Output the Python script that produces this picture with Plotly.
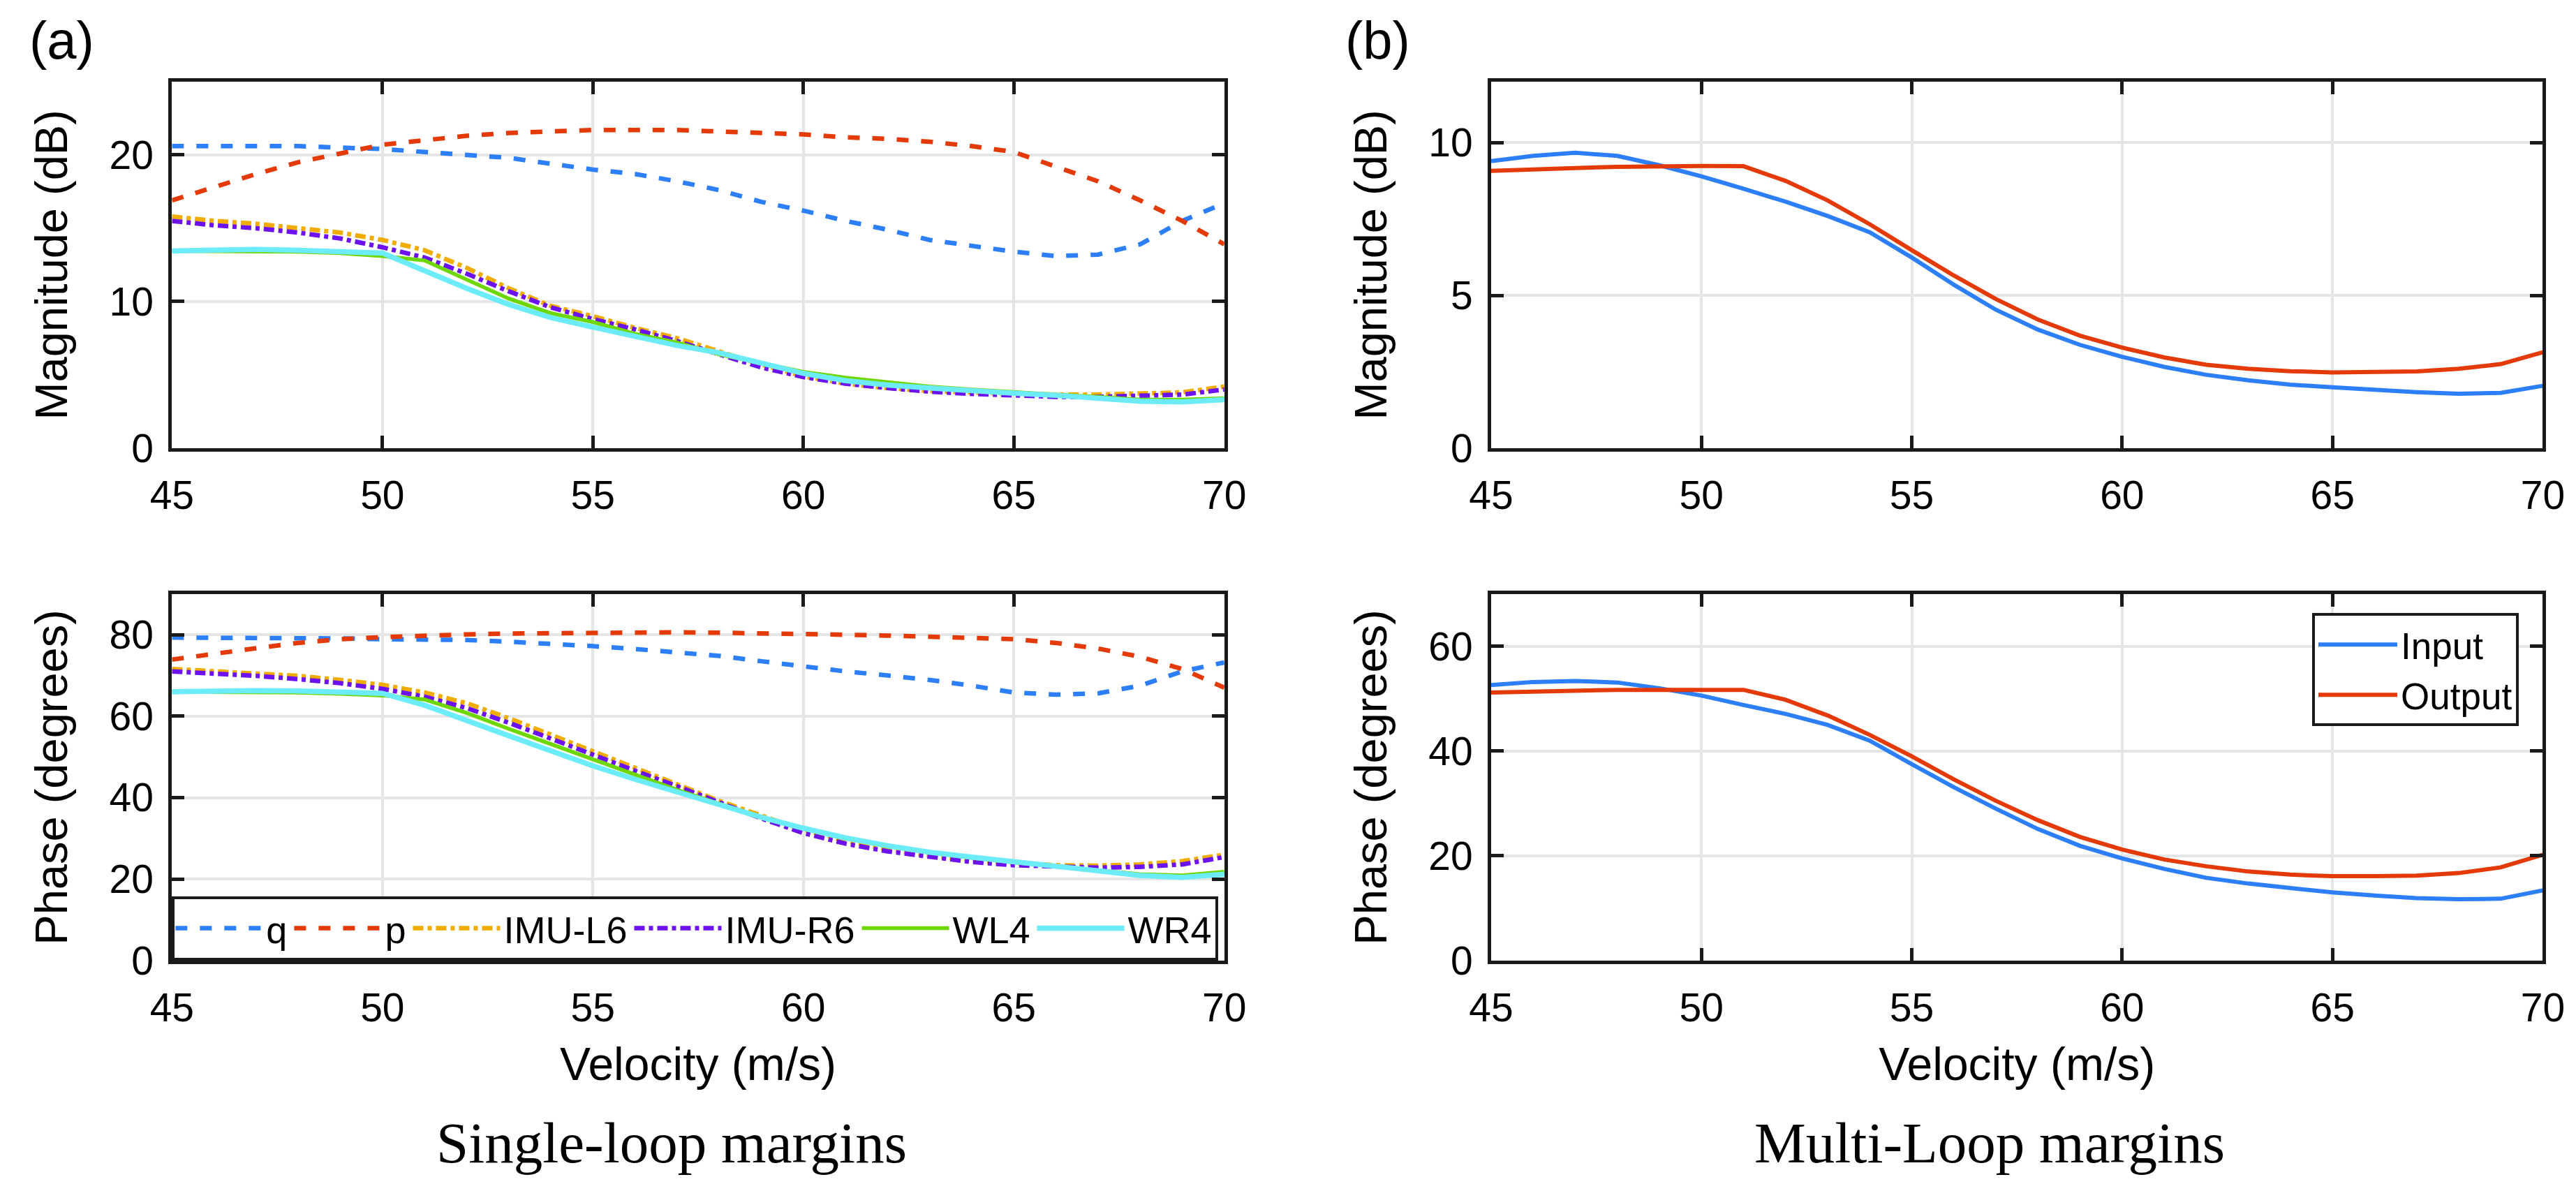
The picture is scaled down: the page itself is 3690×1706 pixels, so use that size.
import plotly.graph_objects as go
from plotly.subplots import make_subplots

#%% data (velocity in m/s)
velocity = [45, 46, 47, 48, 49, 50, 51, 52, 53, 54, 55, 56, 57,
            58, 59, 60, 61, 62, 63, 64, 65, 66, 67, 68, 69, 70]

# single-loop gain margins (dB)
q_mag = [20.6, 20.6, 20.6, 20.6, 20.5, 20.4, 20.2, 20.0, 19.8, 19.4, 19.0, 18.7, 18.2,
         17.6, 16.8, 16.2, 15.5, 14.9, 14.2, 13.8, 13.4, 13.1, 13.2, 13.9, 15.5, 16.7]
p_mag = [16.9, 17.8, 18.7, 19.5, 20.1, 20.7, 21.0, 21.3, 21.5, 21.6, 21.7, 21.7, 21.7,
         21.6, 21.5, 21.4, 21.2, 21.1, 20.9, 20.6, 20.2, 19.2, 18.2, 16.9, 15.5, 13.9]
imul6_mag = [15.8, 15.5, 15.3, 15.0, 14.7, 14.2, 13.5, 12.3, 10.9, 9.7, 9.0, 8.2, 7.5,
             6.6, 5.7, 4.9, 4.4, 4.1, 3.9, 3.8, 3.7, 3.65, 3.65, 3.7, 3.8, 4.2]
imur6_mag = [15.5, 15.2, 15.0, 14.7, 14.3, 13.7, 13.0, 11.9, 10.7, 9.6, 8.8, 8.1, 7.3,
             6.4, 5.5, 4.85, 4.4, 4.1, 3.85, 3.7, 3.6, 3.5, 3.5, 3.6, 3.65, 4.0]
wl4_mag = [13.45, 13.45, 13.45, 13.4, 13.3, 13.1, 12.8, 11.5, 10.2, 9.2, 8.6, 7.8, 7.2,
           6.4, 5.8, 5.2, 4.8, 4.5, 4.2, 4.0, 3.8, 3.65, 3.5, 3.3, 3.3, 3.4]
wr4_mag = [13.45, 13.5, 13.55, 13.5, 13.4, 13.3, 12.1, 10.9, 9.8, 8.9, 8.25, 7.6, 7.0,
           6.5, 5.8, 5.1, 4.6, 4.3, 4.1, 3.9, 3.75, 3.6, 3.4, 3.2, 3.15, 3.3]

# single-loop phase margins (degrees)
q_ph = [79.3, 79.3, 79.2, 79.2, 79.1, 78.9, 78.8, 78.7, 78.3, 77.8, 77.2, 76.5, 75.6,
        74.8, 73.5, 72.2, 71.0, 70.0, 68.9, 67.5, 65.8, 65.3, 65.6, 67.5, 71.0, 73.2]
p_ph = [73.9, 75.4, 76.7, 78.0, 78.9, 79.4, 79.8, 80.1, 80.3, 80.4, 80.5, 80.6, 80.6,
        80.5, 80.4, 80.2, 80.0, 79.8, 79.5, 79.2, 78.9, 78.0, 76.6, 74.6, 71.6, 67.0]
imul6_ph = [71.6, 71.1, 70.6, 69.9, 68.9, 67.7, 65.8, 63.2, 59.5, 55.5, 51.5, 47.4, 43.3,
            39.2, 35.6, 32.1, 29.4, 27.3, 25.8, 24.7, 23.9, 23.4, 23.3, 23.6, 24.4, 26.0]
imur6_ph = [71.0, 70.5, 69.9, 69.1, 68.1, 66.7, 64.8, 62.0, 58.4, 54.5, 50.5, 46.6, 42.8,
            38.8, 34.9, 31.3, 28.7, 26.8, 25.4, 24.2, 23.4, 23.0, 22.8, 23.0, 23.6, 25.4]
wl4_ph = [66.0, 66.0, 66.0, 65.8, 65.5, 65.1, 64.1, 60.8, 56.9, 53.1, 49.3, 45.5, 41.9,
          38.5, 35.1, 32.3, 30.0, 28.0, 26.5, 25.2, 24.1, 23.2, 22.2, 21.2, 20.9, 21.8]
wr4_ph = [66.0, 66.2, 66.3, 66.2, 66.0, 65.6, 62.7, 59.1, 55.2, 51.5, 47.8, 44.5, 41.3,
          38.3, 35.2, 32.5, 30.1, 28.2, 26.6, 25.4, 24.2, 23.2, 22.0, 20.9, 20.4, 21.2]

# multi-loop margins
input_mag = [9.4, 9.57, 9.67, 9.57, 9.26, 8.9, 8.49, 8.07, 7.6, 7.07, 6.24, 5.35, 4.53,
             3.88, 3.38, 2.99, 2.66, 2.4, 2.22, 2.08, 1.99, 1.9, 1.83, 1.78, 1.81, 2.04]
output_mag = [9.08, 9.14, 9.17, 9.21, 9.23, 9.24, 9.23, 8.75, 8.11, 7.33, 6.48, 5.65, 4.88,
              4.21, 3.68, 3.29, 2.97, 2.73, 2.6, 2.52, 2.48, 2.48, 2.51, 2.6, 2.75, 3.14]
input_ph = [52.6, 53.2, 53.4, 53.1, 52.0, 50.6, 48.8, 47.1, 45.0, 42.0, 37.5, 33.1, 29.0,
            25.1, 21.9, 19.5, 17.5, 15.8, 14.7, 13.8, 13.0, 12.4, 11.9, 11.7, 11.8, 13.4]
output_ph = [51.2, 51.4, 51.5, 51.7, 51.7, 51.7, 51.7, 49.8, 46.8, 43.1, 39.0, 34.6, 30.5,
             26.8, 23.6, 21.2, 19.3, 18.0, 17.0, 16.4, 16.1, 16.1, 16.2, 16.7, 17.8, 20.2]

x_ticks = [45, 50, 55, 60, 65, 70]

#%% styles
W, H = 3690, 1706
SANS = "Liberation Sans, Arial, Helvetica, sans-serif"
SERIF = "Liberation Serif, Times New Roman, serif"
BLUE = "#2d7ff9"
RED = "#e33a08"
ORANGE = "#f0ad00"
PURPLE = "#6c12f0"
GREEN = "#6ed600"
CYAN = "#6cecf8"
AXC = "#1a1a1a"
GRID = "#e3e6e5"

single = [
    ("q", q_mag, q_ph, BLUE, "17px,18px", 6.5),
    ("p", p_mag, p_ph, RED, "17px,18px", 6.5),
    ("IMU-L6", imul6_mag, imul6_ph, ORANGE, "15px,6px,6px,6px", 6.5),
    ("IMU-R6", imur6_mag, imur6_ph, PURPLE, "15px,6px,6px,6px", 6.5),
    ("WL4", wl4_mag, wl4_ph, GREEN, "solid", 5.5),
    ("WR4", wr4_mag, wr4_ph, CYAN, "solid", 7.5),
]
multi = [
    ("Input", input_mag, input_ph, BLUE),
    ("Output", output_mag, output_ph, RED),
]

fig = make_subplots(rows=2, cols=2)

for name, mag, ph, col, dash, lw in single:
    fig.add_trace(go.Scatter(x=velocity, y=mag, mode="lines", name=name, legendgroup=name,
                             showlegend=False, line=dict(color=col, width=lw, dash=dash)),
                  row=1, col=1)
    fig.add_trace(go.Scatter(x=velocity, y=ph, mode="lines", name=name, legendgroup=name,
                             legend="legend", line=dict(color=col, width=lw, dash=dash)),
                  row=2, col=1)

for name, mag, ph, col in multi:
    fig.add_trace(go.Scatter(x=velocity, y=mag, mode="lines", name=name, legendgroup=name,
                             showlegend=False, legend="legend2",
                             line=dict(color=col, width=6)), row=1, col=2)
    fig.add_trace(go.Scatter(x=velocity, y=ph, mode="lines", name=name, legendgroup=name,
                             legend="legend2", line=dict(color=col, width=6)), row=2, col=2)

# panel positions (pixels)
xl = [210 / W, 1744 / W]
xr = [2133 / W, 3666 / W]
yt = [1 - 646 / H, 1 - 111 / H]
yb = [1 - 1394 / H, 1 - 859 / H]

axis_style = dict(showline=True, linewidth=5, linecolor=AXC, mirror="allticks",
                  ticks="inside", ticklen=18, tickwidth=5, tickcolor=AXC,
                  showgrid=True, gridcolor=GRID, gridwidth=4, zeroline=False,
                  tickfont=dict(family=SANS, size=57, color="black"))

ytitle_font = dict(family=SANS, size=65, color="black")
xtitle_font = dict(family=SANS, size=66, color="black")

fig.update_xaxes(axis_style, range=[45, 70], tickvals=x_ticks, ticklabelstandoff=14)
fig.update_yaxes(axis_style, ticklabelstandoff=10)

fig.update_layout(
    xaxis=dict(domain=xl), yaxis=dict(domain=yt, range=[0, 25], tickvals=[0, 10, 20],
                                      title=dict(text="Magnitude (dB)", font=ytitle_font, standoff=40)),
    xaxis2=dict(domain=xr), yaxis2=dict(domain=yt, range=[0, 12], tickvals=[0, 5, 10],
                                        title=dict(text="Magnitude (dB)", font=ytitle_font, standoff=40)),
    xaxis3=dict(domain=xl, title=dict(text="Velocity (m/s)", font=xtitle_font, standoff=28)),
    yaxis3=dict(domain=yb, range=[0, 90], tickvals=[0, 20, 40, 60, 80],
                title=dict(text="Phase (degrees)", font=ytitle_font, standoff=40)),
    xaxis4=dict(domain=xr, title=dict(text="Velocity (m/s)", font=xtitle_font, standoff=28)),
    yaxis4=dict(domain=yb, range=[0, 70], tickvals=[0, 20, 40, 60],
                title=dict(text="Phase (degrees)", font=ytitle_font, standoff=40)),
)

fig.update_layout(
    width=W, height=H, autosize=False,
    margin=dict(l=0, r=0, t=0, b=0),
    paper_bgcolor="white", plot_bgcolor="white",
    font=dict(family=SANS, color="black"),
    legend=dict(orientation="h", x=xl[0], y=yb[0], xanchor="left", yanchor="bottom",
                bgcolor="white", bordercolor=AXC, borderwidth=4, itemwidth=125,
                font=dict(family=SANS, size=54, color="black"), tracegroupgap=0),
    legend2=dict(orientation="v", x=3631 / W, y=1 - 887 / H, xanchor="right", yanchor="top",
                 bgcolor="white", bordercolor=AXC, borderwidth=4, itemwidth=113,
                 font=dict(family=SANS, size=53, color="black"), tracegroupgap=0),
    annotations=[
        dict(text="(a)", x=0 / W, y=1 - 5 / H, xref="paper", yref="paper", xanchor="left",
             yanchor="top", showarrow=False, font=dict(family=SANS, size=76)),
        dict(text="(b)", x=1918 / W, y=1 - 5 / H, xref="paper", yref="paper", xanchor="left",
             yanchor="top", showarrow=False, font=dict(family=SANS, size=76)),
        dict(text="Single-loop margins", x=938 / W, y=1 - 1660 / H, xref="paper", yref="paper",
             xanchor="center", yanchor="middle", showarrow=False, font=dict(family=SERIF, size=83)),
        dict(text="Multi-Loop margins", x=2860 / W, y=1 - 1660 / H, xref="paper", yref="paper",
             xanchor="center", yanchor="middle", showarrow=False, font=dict(family=SERIF, size=83)),
    ],
)

fig.write_html("out.html")
